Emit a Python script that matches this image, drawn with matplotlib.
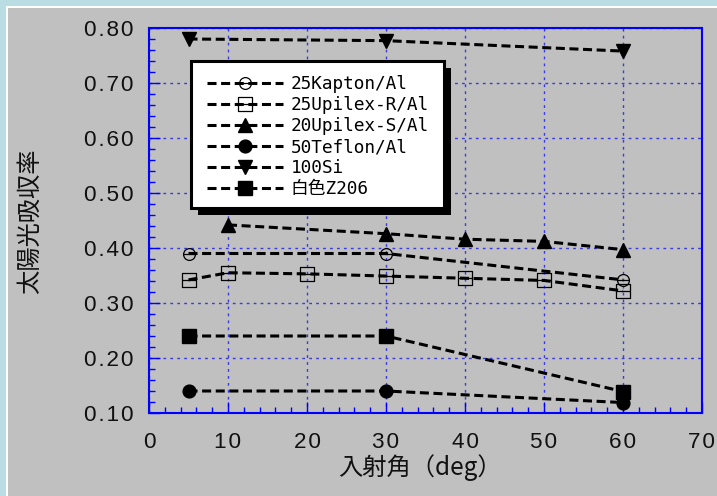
import numpy as np
import matplotlib
matplotlib.use('Agg')
import matplotlib.pyplot as plt
from matplotlib.path import Path
from matplotlib.patches import Rectangle
from matplotlib.ticker import MultipleLocator, FuncFormatter

# solar absorptance vs. incidence angle
ang_kapton = [5, 30, 60]
kapton = [0.390, 0.390, 0.342]
ang_upr = [5, 10, 20, 30, 40, 50, 60]
upilex_r = [0.342, 0.355, 0.353, 0.349, 0.345, 0.341, 0.322]
ang_ups = [10, 30, 40, 50, 60]
upilex_s = [0.442, 0.426, 0.416, 0.412, 0.397]
ang_teflon = [5, 30, 60]
teflon = [0.140, 0.140, 0.119]
ang_si = [5, 30, 60]
si = [0.780, 0.777, 0.758]
ang_z206 = [5, 30, 60]
z206 = [0.240, 0.240, 0.139]

labels = ['25Kapton/Al', '25Upilex-R/Al', '20Upilex-S/Al',
          '50Teflon/Al', '100Si', '白色Z206']

W, H = 717, 496
plt.rcParams['lines.scale_dashes'] = False

# circle / square with a bar through the middle
bar = Path([[-1, 0], [1, 0]], [Path.MOVETO, Path.LINETO])
circ_bar = Path.make_compound_path(Path.unit_circle(), bar)
sq = Path([[-1, -1], [1, -1], [1, 1], [-1, 1], [-1, -1]],
          [Path.MOVETO, Path.LINETO, Path.LINETO, Path.LINETO, Path.CLOSEPOLY])
sq_bar = Path.make_compound_path(sq, bar)

fig = plt.figure(figsize=(W/100, H/100), dpi=100)
fig.patch.set_facecolor('#b9dde2')
fig.add_artist(Rectangle((6/W, 0), 1, 1 - 6/H, transform=fig.transFigure,
                         facecolor='white', edgecolor='none', zorder=-2))
fig.add_artist(Rectangle((8/W, 0), 1, 1 - 8/H, transform=fig.transFigure,
                         facecolor='#c0c0c0', edgecolor='none', zorder=-1))

ax = fig.add_axes([149/W, (H-413)/H, (702-149)/W, (413-28)/H])
ax.set_facecolor('#c0c0c0')

dash = (0, (6.5, 3.3))
common = dict(color='black', lw=2.2, linestyle=dash, mec='black')
l1, = ax.plot(ang_kapton, kapton, marker=circ_bar, ms=8.5, mfc='none', mew=0.9, **common)
l2, = ax.plot(ang_upr, upilex_r, marker=sq_bar, ms=9.5, mfc='none', mew=0.9, **common)
l3, = ax.plot(ang_ups, upilex_s, marker='^', ms=9.5, mfc='black', **common)
l4, = ax.plot(ang_teflon, teflon, marker='o', ms=9.2, mfc='black', **common)
l5, = ax.plot(ang_si, si, marker='v', ms=9.5, mfc='black', **common)
l6, = ax.plot(ang_z206, z206, marker='s', ms=9.5, mfc='black', **common)

ax.set_xlim(0, 70)
ax.set_ylim(0.1, 0.8)
ax.xaxis.set_major_locator(MultipleLocator(10))
ax.xaxis.set_minor_locator(MultipleLocator(2))
ax.yaxis.set_major_locator(MultipleLocator(0.1))
ax.yaxis.set_minor_locator(MultipleLocator(0.02))

def spaced(s):
    return '\u200a'.join(s)

ax.xaxis.set_major_formatter(FuncFormatter(lambda v, p: spaced('%d' % round(v))))
ax.yaxis.set_major_formatter(FuncFormatter(lambda v, p: spaced('%.2f' % v)))

ax.tick_params(which='both', direction='in', color='#0000ff', top=False, right=False,
               labelsize=16.2, labelcolor='#111111')
ax.tick_params(axis='x', which='major', length=8, width=1, pad=13.5)
ax.tick_params(axis='y', which='major', length=8, width=1, pad=11)
ax.tick_params(which='minor', length=4.5, width=1)
for t in ax.get_xticklabels() + ax.get_yticklabels():
    t.set_fontfamily(['Liberation Sans', 'DejaVu Sans'])
for s in ax.spines.values():
    s.set_color('#0000ff')
    s.set_linewidth(1.5)
ax.grid(True, which='major', color='#3a3ae0', linestyle=(0, (2, 3)), lw=1)

cjk = ['Noto Sans CJK JP', 'DejaVu Sans']
ax.set_xlabel('入射角（deg）', fontsize=17.5, family=cjk, color='#111111')
ax.xaxis.set_label_coords((420-149)/553, -(468-413)/385)
ax.xaxis.label.set_va('center')
ax.set_ylabel('太陽光吸収率', fontsize=17.5, family=cjk, color='#111111')
ax.yaxis.set_label_coords((30-149)/553, (413-221)/385)
ax.yaxis.label.set_va('center')

# legend box with a drop shadow
bx0, by0, bx1, by1 = 190.7, 60.7, 444, 208
fig.add_artist(Rectangle(((bx0+7)/W, (H-by1-7)/H), (bx1-bx0)/W, (by1-by0)/H,
                         transform=fig.transFigure, facecolor='black',
                         edgecolor='none', zorder=3))
fig.add_artist(Rectangle((bx0/W, (H-by1)/H), (bx1-bx0)/W, (by1-by0)/H,
                         transform=fig.transFigure, facecolor='white',
                         edgecolor='black', lw=2.2, zorder=4))
leg = fig.legend([l1, l2, l3, l4, l5, l6], labels, loc='upper left',
                 bbox_to_anchor=(206.5/W, 1 - 75/H), bbox_transform=fig.transFigure,
                 frameon=False, borderpad=0, borderaxespad=0, numpoints=1,
                 handlelength=4.33, handletextpad=0.42, labelspacing=0.17,
                 prop={'family': ['DejaVu Sans Mono', 'Noto Sans CJK JP'], 'size': 12.8})
leg.set_zorder(5)

plt.savefig('out.png', dpi=100, facecolor=fig.get_facecolor())
